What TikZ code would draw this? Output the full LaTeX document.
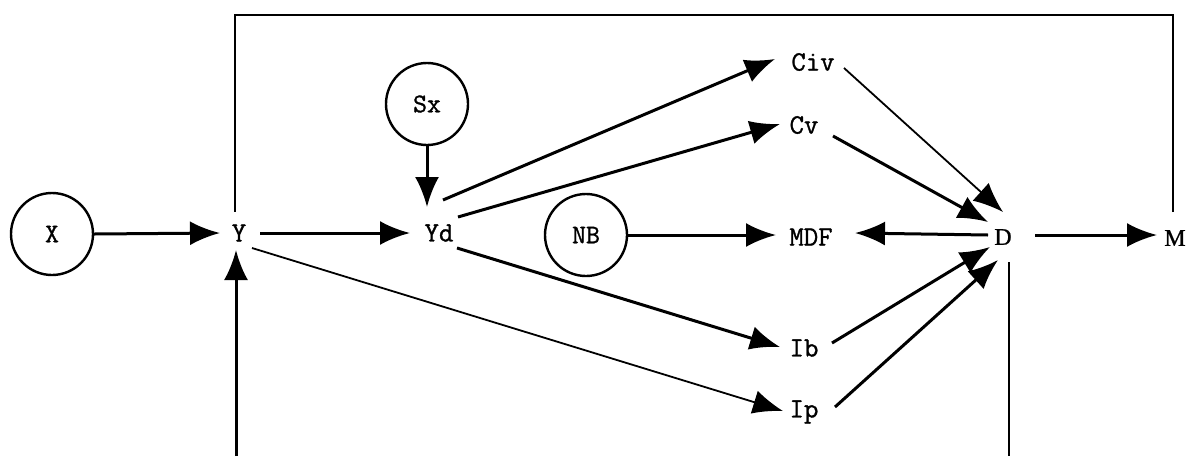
\documentclass[tikz,border=0pt]{standalone}
\usepackage{fontspec}
\newfontfamily\serifDM{Liberation Serif}[FakeBold=0.8]
\newfontfamily\ttheavy{Latin Modern Mono}[FakeBold=1.1]
\usetikzlibrary{arrows.meta}
\begin{document}
\begin{tikzpicture}[x=1pt,y=-1pt,
  lbl/.style={font=\ttheavy\fontsize{28}{32}\selectfont, inner sep=0pt},
  slbl/.style={font=\serifDM\fontsize{24}{28}\selectfont, inner sep=0pt},
  circ/.style={circle, draw, line width=2.4pt, minimum size=82pt, inner sep=0pt,
    font=\ttheavy\fontsize{27}{30}\selectfont},
  arr/.style={line width=3pt, -{Latex[length=30pt,width=24pt]}},
  tarr/.style={line width=1.8pt, -{Latex[length=30pt,width=24pt]}},
  loop/.style={line width=2.4pt}]
\useasboundingbox (0,0) rectangle (1186,456);
% nodes
\node[circ] (X) at (52,234) {X};
\node[circ] (Sx) at (427,104) {Sx};
\node[circ] (NB) at (586,235) {NB};
\node[lbl] (Y) at (239,233) {Y};
\node[lbl] (Yd) at (439,233) {Yd};
\node[lbl] (Civ) at (813,62) {Civ};
\node[lbl] (Cv) at (804,125) {Cv};
\node[lbl] (MDF) at (811,237) {MDF};
\node[lbl] (Ib) at (804,348) {Ib};
\node[lbl] (Ip) at (804,412) {Ip};
\node[slbl] (D) at (1003,237) {D};
\node[slbl] (M) at (1175,238) {M};
\coordinate (tl) at (235,15);
\coordinate (bl) at (236,456);
\coordinate (br) at (1009,456);
% connectors
\draw[arr] (X.east) -- ([shift={(-19,0)}]Y.center);
\draw[arr] ([shift={(21,0)}]Y.center) -- ([shift={(-29,0)}]Yd.center);
\draw[tarr] ([shift={(13,15)}]Y.center) -- ([shift={(-21,-1)}]Ip.center);
\draw[arr] (Sx.south) -- ([shift={(0,-26)}]Yd.center -| Sx.south);
\draw[arr] ([shift={(4,-33)}]Yd.center) -- ([shift={(-38,-3)}]Civ.center);
\draw[arr] ([shift={(19,-16)}]Yd.center) -- ([shift={(-24,-1)}]Cv.center);
\draw[arr] ([shift={(18,15)}]Yd.center) -- ([shift={(-24,-1)}]Ib.center);
\draw[arr] (NB.east) -- ([shift={(-35,-2)}]MDF.center);
\draw[arr] ([shift={(-15,-2)}]D.center) -- ([shift={(44,-4)}]MDF.center);
\draw[tarr] ([shift={(31,6)}]Civ.center) -- ([shift={(0,-25)}]D.center);
\draw[arr] ([shift={(29,11)}]Cv.center) -- ([shift={(-15,-15)}]D.center);
\draw[arr] ([shift={(28,-5)}]Ib.center) -- ([shift={(-13,10)}]D.center);
\draw[arr] ([shift={(31,-5)}]Ip.center) -- ([shift={(-5,23)}]D.center);
\draw[arr] ([shift={(32,-2)}]D.center) -- ([shift={(-18,-3)}]M.center);
\draw[loop] ([shift={(-2,-26)}]M.center) |- (tl) -- ([shift={(-4,-21)}]Y.center);
\draw[loop] ([shift={(6,25)}]D.center) -- (br);
\draw[arr] (bl) -- ([shift={(-3,17)}]Y.center);
\end{tikzpicture}
\end{document}
